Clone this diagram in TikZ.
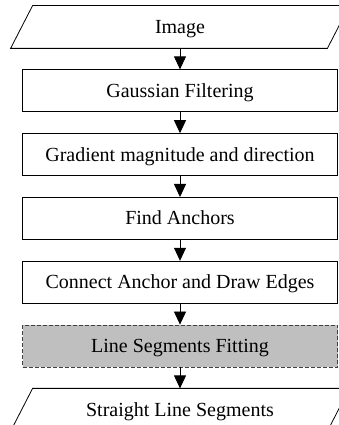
\documentclass[tikz,border=0pt]{standalone}
\usepackage{fontspec}
\setmainfont{Liberation Serif}
\usetikzlibrary{positioning,arrows.meta}
\definecolor{fitgray}{RGB}{191,191,191}
\definecolor{dashgray}{RGB}{64,64,64}
\tikzset{
    stepbox/.style={draw, rectangle, line width=0.8pt, minimum width=315pt,
        minimum height=42pt, inner sep=0pt, text height=13.2pt, text depth=0pt,
        font=\fontsize{20}{24}\selectfont},
    iobox/.style={stepbox, draw=none, minimum width=316pt,
        append after command={\pgfextra{
            \draw[line width=0.8pt]
                ([xshift=-11pt]\tikzlastnode.south west)
                -- ([xshift=-11pt]\tikzlastnode.south east)
                -- ([xshift=11pt]\tikzlastnode.north east)
                -- ([xshift=11pt]\tikzlastnode.north west) -- cycle;}}},
    fitbox/.style={stepbox, dashed, dash pattern=on 4pt off 2pt,
        draw=dashgray, fill=fitgray},
    flow/.style={-{Triangle[length=13pt,width=12pt]}, line width=0.8pt}
}

\begin{document}
\begin{tikzpicture}[node distance=21pt]
    \useasboundingbox (0pt, 0pt) rectangle (338pt, 425pt);
    % Steps
    \node[iobox] (Image) at (180pt, 398pt) {Image};
    \node[stepbox, below=of Image] (Gauss) {Gaussian Filtering};
    \node[stepbox, below=of Gauss] (Grad) {Gradient magnitude and direction};
    \node[stepbox, below=of Grad] (Anchor) {Find Anchors};
    \node[stepbox, below=of Anchor] (Edge) {Connect Anchor and Draw Edges};
    \node[fitbox, below=of Edge] (Fit) {Line Segments Fitting};
    \node[iobox, below=of Fit] (Lines) {Straight Line Segments};
    % Arrows
    \draw[flow] (Image) -- (Gauss);
    \draw[flow] (Gauss) -- (Grad);
    \draw[flow] (Grad) -- (Anchor);
    \draw[flow] (Anchor) -- (Edge);
    \draw[flow] (Edge) -- (Fit);
    \draw[flow] (Fit) -- (Lines);
\end{tikzpicture}
\end{document}
